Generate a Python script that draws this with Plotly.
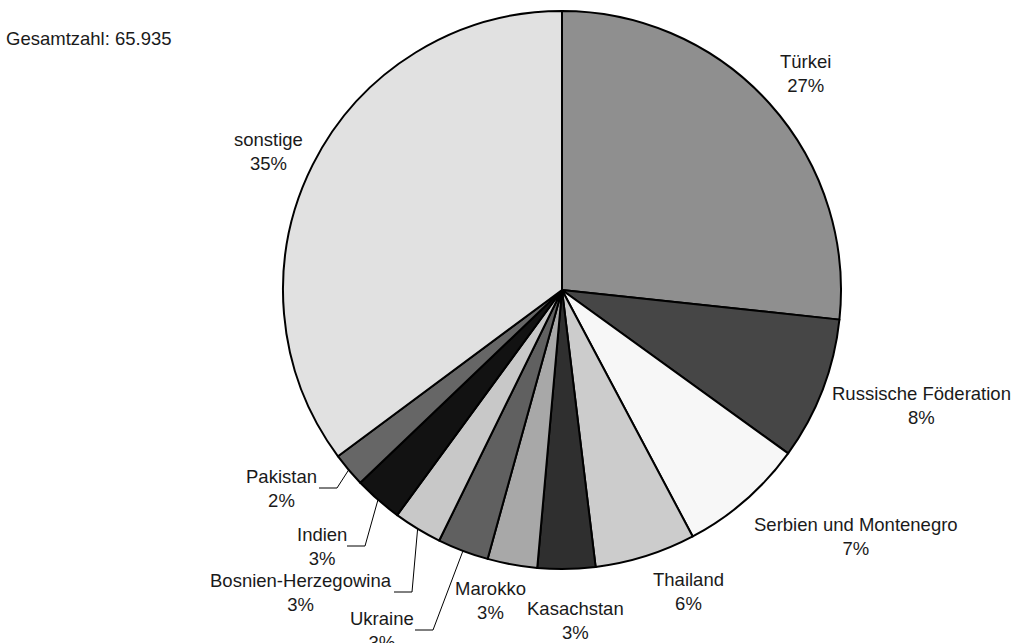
import math
import plotly.graph_objects as go

# ---- data ----
countries = ["Türkei", "Russische Föderation", "Serbien und Montenegro", "Thailand",
             "Kasachstan", "Marokko", "Ukraine", "Bosnien-Herzegowina", "Indien",
             "Pakistan", "sonstige"]
values = [17600, 5450, 4800, 3850, 2200, 1900, 1950, 1850, 1850, 1300, 23185]
total_text = "Gesamtzahl: 65.935"

# ---- styles ----
colors = ["#8f8f8f", "#464646", "#f7f7f7", "#cccccc", "#2f2f2f", "#a8a8a8",
          "#606060", "#c8c8c8", "#121212", "#666666", "#e1e1e1"]

W, H = 1015, 643
CX, CY, R = 562, 290, 279  # pie centre / radius in pixels
FONT = "Liberation Sans, Arial, sans-serif"
FSIZE = 18.5

# label placement (pixel centres)
label_xy = {
    "Türkei": (805, 73),
    "Russische Föderation": (921, 405),
    "Serbien und Montenegro": (856, 536),
    "Thailand": (688, 591),
    "Kasachstan": (575, 620),
    "Marokko": (490, 600),
    "Ukraine": (382, 630),
    "Bosnien-Herzegowina": (301, 592),
    "Indien": (322, 546),
    "Pakistan": (281, 488),
    "sonstige": (268, 151),
}
# leader line elbows for small slices
elbow_xy = {
    "Pakistan": (337, 488),
    "Indien": (365, 546),
    "Bosnien-Herzegowina": (412, 592),
    "Ukraine": (433, 630),
}
LEADER_TAIL = 18


def px(x):
    return x / W


def py(y):
    return 1 - y / H


total = sum(values)

fig = go.Figure(go.Pie(
    labels=countries,
    values=values,
    sort=False,
    direction="clockwise",
    rotation=0,
    marker=dict(colors=colors, line=dict(color="black", width=2)),
    textinfo="none",
    hoverinfo="skip",
    showlegend=False,
    domain=dict(x=[px(CX - R), px(CX + R)], y=[py(CY + R), py(CY - R)]),
))

annotations = []
shapes = []
cum = 0
for name, v in zip(countries, values):
    pct = round(v / total * 100)
    mid = (cum + v / 2) / total * 2 * math.pi
    cum += v
    lx, ly = label_xy[name]
    annotations.append(dict(
        x=px(lx), y=py(ly), xref="paper", yref="paper",
        text=f"{name}<br>{pct}%", showarrow=False,
        xanchor="center", yanchor="middle", align="center",
        font=dict(family=FONT, size=FSIZE, color="#1a1a1a"),
    ))
    if name in elbow_xy:
        ax = CX + R * math.sin(mid)
        ay = CY - R * math.cos(mid)
        ex, ey = elbow_xy[name]
        shapes.append(dict(type="line", xref="paper", yref="paper",
                           x0=px(ax), y0=py(ay), x1=px(ex), y1=py(ey),
                           line=dict(color="black", width=1)))
        shapes.append(dict(type="line", xref="paper", yref="paper",
                           x0=px(ex), y0=py(ey), x1=px(ex - LEADER_TAIL), y1=py(ey),
                           line=dict(color="black", width=1)))

annotations.append(dict(
    x=px(4), y=py(39), xref="paper", yref="paper", text=total_text,
    showarrow=False, xanchor="left", yanchor="middle",
    font=dict(family=FONT, size=FSIZE, color="#1a1a1a"),
))

fig.update_layout(
    width=W, height=H,
    margin=dict(l=0, r=0, t=0, b=0),
    paper_bgcolor="white", plot_bgcolor="white",
    annotations=annotations, shapes=shapes,
)

fig.write_html(
    "out.html",
    config={"displayModeBar": False},
    post_script="document.body.style.margin='0';document.body.style.padding='0';"
                "document.body.style.overflow='hidden';",
)
